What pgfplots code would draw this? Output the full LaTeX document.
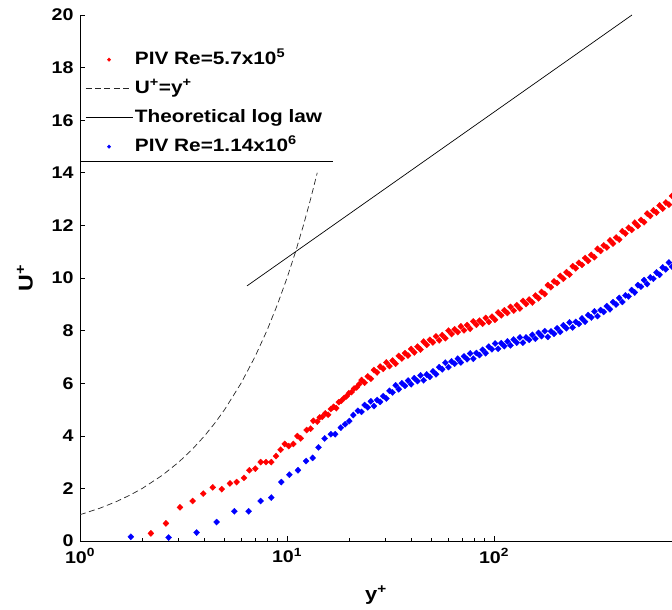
\documentclass[border=0pt]{standalone}
\usepackage{pgfplots}
\pgfplotsset{compat=1.18}
\usepackage{pgfplotstable}
\usepackage{fontspec}
\setmainfont{Liberation Sans}[FakeStretch=1.16]

\pgfplotsset{
  lineleg/.style={legend image code/.code={\draw[##1] (0bp,0bp) -- (47bp,0bp);}},
  markleg/.style={legend image code/.code={\draw[##1, mark size=1.8pt] plot coordinates {(23.5bp,0bp)};}},
}

\pgfplotstableread{
x y
2.20 0.29
2.60 0.67
3.04 1.28
3.50 1.52
3.94 1.80
4.38 2.04
4.84 1.97
5.30 2.19
5.71 2.24
6.20 2.40
6.58 2.69
7.03 2.75
7.46 3.00
7.92 3.00
8.40 3.00
8.85 3.23
9.32 3.47
9.75 3.69
10.19 3.61
10.73 3.69
11.22 3.99
11.65 3.90
12.45 4.22
13.0 4.27
13.4 4.57
14.0 4.54
14.4 4.70
14.8 4.72
15.3 4.85
15.8 4.80
16.3 5.02
16.8 5.10
17.3 5.05
17.8 5.28
18.3 5.33
18.9 5.44
19.4 5.50
19.9 5.62
20.5 5.66
21.1 5.80
21.7 5.84
22.3 5.96
22.91 6.12
23.71 6.02
24.55 6.26
25.41 6.17
26.30 6.50
27.23 6.41
28.18 6.63
29.17 6.55
30.20 6.79
31.26 6.65
32.36 6.86
33.50 6.74
34.67 7.04
35.89 6.94
37.15 7.14
38.46 7.05
39.81 7.30
41.21 7.17
42.66 7.39
44.16 7.28
45.71 7.58
47.32 7.46
48.98 7.65
50.70 7.55
52.48 7.78
54.33 7.63
56.23 7.83
58.21 7.71
60.26 8.00
62.37 7.87
64.57 8.05
66.83 7.94
69.18 8.16
71.61 8.01
74.13 8.21
76.74 8.07
79.43 8.35
82.22 8.22
85.11 8.38
88.10 8.26
91.20 8.48
94.41 8.33
97.72 8.53
101.2 8.41
104.7 8.69
108.4 8.58
112.2 8.77
116.1 8.67
120.2 8.90
124.5 8.76
128.8 8.97
133.4 8.84
138.0 9.13
142.9 9.01
147.9 9.18
153.1 9.07
158.5 9.33
164.1 9.23
169.8 9.47
175.8 9.39
182.0 9.73
188.4 9.65
195.0 9.87
201.8 9.81
208.9 10.08
216.3 9.97
223.9 10.22
231.7 10.13
239.9 10.45
248.3 10.37
257.0 10.58
266.1 10.50
275.4 10.76
285.1 10.65
295.1 10.88
305.5 10.79
316.2 11.11
327.3 11.03
338.8 11.24
350.8 11.16
363.1 11.43
375.8 11.31
389.0 11.54
402.7 11.46
416.9 11.78
431.5 11.69
446.7 11.91
462.4 11.83
478.6 12.10
495.5 11.98
512.9 12.21
530.9 12.12
549.5 12.45
568.9 12.36
588.8 12.57
609.5 12.49
631.0 12.76
653.1 12.64
676.1 12.87
699.8 12.79
724.4 13.12
}\redtab

\pgfplotstableread{
x y
1.76 0.16
2.68 0.13
3.66 0.32
4.57 0.72
5.57 1.13
6.53 1.13
7.46 1.52
8.40 1.65
9.39 2.24
10.26 2.52
11.30 2.69
12.36 3.04
13.3 3.16
14.2 3.56
15.2 3.90
16.3 4.06
17.1 4.06
18.2 4.31
19.1 4.44
20.0 4.56
20.9 4.79
22.0 4.95
22.91 4.91
23.71 5.17
24.55 5.08
25.41 5.31
26.30 5.13
27.23 5.36
28.18 5.29
29.17 5.51
30.20 5.42
31.26 5.71
32.36 5.65
33.50 5.92
34.67 5.77
35.89 6.00
37.15 5.90
38.46 6.10
39.81 5.96
41.21 6.19
42.66 6.08
44.16 6.30
45.71 6.11
47.32 6.33
48.98 6.24
50.70 6.45
52.48 6.34
54.33 6.61
56.23 6.53
58.21 6.78
60.26 6.61
62.37 6.83
64.57 6.74
66.83 6.93
69.18 6.79
71.61 7.02
74.13 6.91
76.74 7.13
79.43 6.93
82.22 7.15
85.11 7.07
88.10 7.27
91.20 7.14
94.41 7.39
97.72 7.29
101.2 7.51
104.7 7.31
108.4 7.52
112.2 7.41
116.1 7.59
120.2 7.44
124.5 7.66
128.8 7.54
133.4 7.74
138.0 7.54
142.9 7.74
147.9 7.65
153.1 7.84
158.5 7.69
164.1 7.91
169.8 7.79
175.8 7.98
182.0 7.76
188.4 7.97
195.0 7.88
201.8 8.09
208.9 7.95
216.3 8.20
223.9 8.09
231.7 8.31
239.9 8.12
248.3 8.33
257.0 8.25
266.1 8.46
275.4 8.34
285.1 8.59
295.1 8.50
305.5 8.73
316.2 8.55
327.3 8.78
338.8 8.71
350.8 8.93
363.1 8.81
375.8 9.08
389.0 8.99
402.7 9.24
416.9 9.09
431.5 9.34
446.7 9.30
462.4 9.54
478.6 9.45
495.5 9.73
512.9 9.67
530.9 9.92
549.5 9.77
568.9 10.02
588.8 9.97
609.5 10.21
631.0 10.12
653.1 10.40
676.1 10.33
699.8 10.59
724.4 10.43
}\bluetab

\begin{document}
\begin{tikzpicture}
\useasboundingbox (-80bp,-69bp) rectangle (592bp,541bp);
\begin{axis}[
  at={(0,0)}, anchor=south west,
  scale only axis, width=592bp, height=526bp,
  xmode=log, xmin=1, xmax=724.4, ymin=0, ymax=20,
  axis x line*=bottom, axis y line*=left,
  axis line style={-, line width=0.8pt},
  tick align=inside,
  major tick length=5bp, minor tick length=3bp,
  tick style={line width=0.6pt, black},
  xtick={1,10,100},
  xticklabels={10\textsuperscript{0},10\textsuperscript{1},10\textsuperscript{2}},
  ytick={0,2,4,6,8,10,12,14,16,18,20},
  yticklabels={0,2,4,6,8,10,12,14,16,18,20},
  ticklabel style={font=\bfseries\fontsize{17}{17}\selectfont},
  xticklabel style={yshift=-4bp},
  yticklabel style={xshift=-3bp},
  xlabel={y\textsuperscript{+}},
  ylabel={U\textsuperscript{+}},
  every axis x label/.style={at={(axis description cs:0.5,0)}, anchor=center, yshift=-54bp, font=\bfseries\fontsize{19}{19}\selectfont},
  every axis y label/.style={at={(axis description cs:-0.093,0.5)}, anchor=center, rotate=90, font=\bfseries\fontsize{20}{20}\selectfont},
  legend cell align=left,
  legend style={at={(axis description cs:0,1)}, anchor=north west, yshift=-30bp, xshift=0bp,
    draw=none, fill=none, inner xsep=5bp, inner ysep=0bp, row sep=0bp,
    font=\bfseries\fontsize{18}{18}\selectfont,
    nodes={text height=13bp, text depth=4bp, inner ysep=6bp}},
]
\addplot[only marks, mark=diamond*, mark size=3.1pt, mark options={xscale=1.3}, color=red, line width=0.3pt, markleg]
  table[x=x, y=y] {\redtab};
\addlegendentry{PIV Re=5.7x10\textsuperscript{5}}
\addplot[black!85, line width=0.7pt, dash pattern=on 6pt off 3.5pt, lineleg] coordinates {
(1,1) (1.25,1.25) (1.5,1.5) (1.75,1.75) (2,2) (2.5,2.5) (3,3) (3.5,3.5) (4,4) (4.5,4.5) (5,5) (6,6) (7,7) (8,8) (9,9) (10,10) (11,11) (12,12) (13,13) (14,14)};
\addlegendentry{U\textsuperscript{+}=y\textsuperscript{+}}
\addplot[black, line width=0.7pt, lineleg] coordinates {(6.41,9.7) (464,20.0)};
\addlegendentry{Theoretical log law}
\addplot[only marks, mark=diamond*, mark size=3.1pt, mark options={xscale=1.3}, color=blue, line width=0.3pt, markleg]
  table[x=x, y=y] {\bluetab};
\addlegendentry{PIV Re=1.14x10\textsuperscript{6}}
\draw[black, line width=0.8pt] (axis cs:1,14.45) -- (axis cs:16.7,14.45);
\end{axis}
\end{tikzpicture}
\end{document}
